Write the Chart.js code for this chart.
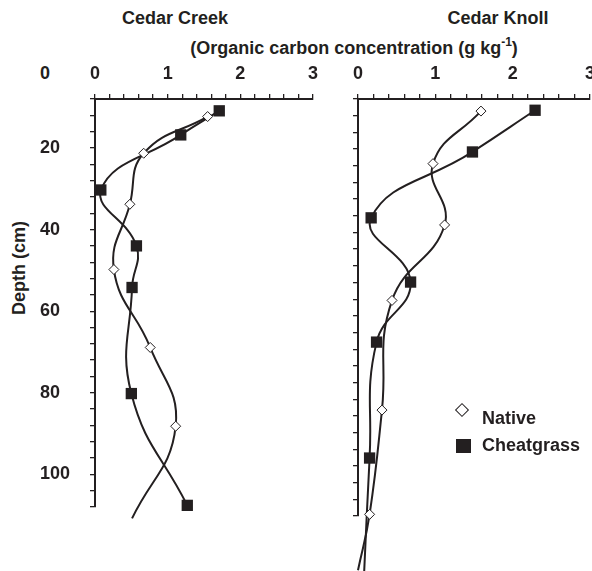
<!DOCTYPE html>
<html>
<head>
<meta charset="utf-8">
<script src="https://cdn.jsdelivr.net/npm/chart.js@4.4.1/dist/chart.umd.min.js"></script>
<style>
  html, body { margin: 0; padding: 0; background: #fff; }
  body {
    width: 592px; height: 571px; position: relative; overflow: hidden;
    font-family: "Liberation Sans", Arial, sans-serif; font-weight: bold; color: #231f20;
  }
  .txt { position: absolute; font-size: 18px; line-height: 18px; white-space: nowrap; transform: translate(-50%, -50%); }
  .txt sup { font-size: 12px; line-height: 0; position: relative; top: -1px; }
  canvas { position: absolute; top: 0; }
  #legend { position: absolute; left: 450px; top: 399px; font-size: 18px; }
  #legend .item { position: relative; height: 36px; }
  #legend .mark { position: absolute; box-sizing: border-box; }
  #legend .label { position: absolute; left: 32px; top: 1px; line-height: 18px; white-space: nowrap; }
</style>
</head>
<body>
<div class="txt" style="left:175px; top:18px;">Cedar Creek</div>
<div class="txt" style="left:498px; top:18px;">Cedar Knoll</div>
<div class="txt" style="left:354px; top:48px;">(Organic carbon concentration (g kg<sup>-1</sup>)</div>
<div class="txt" style="left:19px; top:268px; transform:translate(-50%,-50%) rotate(-90deg);">Depth (cm)</div>
<div class="txt" style="left:45px; top:73px;">0</div>

<canvas id="creek" width="330" height="571" style="left:0;"></canvas>
<canvas id="knoll" width="274" height="571" style="left:330px;"></canvas>
<div id="legend"></div>

<script>
// 유기탄소 농도 (g kg-1) 와 깊이 (cm)
const creekNativeDepth = [12.3, 21.3, 33.8, 49.8, 68.9, 88.2, 110.8];
const creekNativeCarbon = [1.55, 0.67, 0.48, 0.26, 0.76, 1.11, 0.51];
const creekCheatDepth = [10.9, 16.8, 30.3, 44.0, 54.2, 80.2, 107.6];
const creekCheatCarbon = [1.71, 1.18, 0.08, 0.57, 0.51, 0.50, 1.27];

const knollNativeDepth = [10.9, 23.5, 38.2, 56.3, 82.6, 107.6, 121.0];
const knollNativeCarbon = [1.59, 0.97, 1.12, 0.44, 0.31, 0.15, 0.00];
const knollCheatDepth = [10.7, 20.7, 36.5, 51.9, 66.3, 94.1, 121.3];
const knollCheatCarbon = [2.29, 1.48, 0.17, 0.68, 0.24, 0.15, 0.08];

const carbonLabels = [0, 1, 2, 3];
const depthLabels = [20, 40, 60, 80, 100];

const ink = '#231f20';
const depthMax = 108;

function toPoints(depths, carbons) {
  return depths.map((d, i) => ({ x: carbons[i], y: d }));
}

// 축 범위 밖의 점은 마커 없이 선만
function markerSize(size) {
  return ctx => (ctx.raw && ctx.raw.y > depthMax ? 0 : size);
}

function makeChart(id, nativePts, cheatPts, opt) {
  return new Chart(document.getElementById(id), {
    type: 'scatter',
    data: {
      datasets: [
        {
          label: 'Native',
          data: nativePts,
          showLine: true,
          borderColor: ink,
          borderWidth: 2,
          tension: 0.45,
          clip: false,
          pointStyle: 'rectRot',
          pointRadius: markerSize(5),
          pointBackgroundColor: '#fff',
          pointBorderColor: ink,
          pointBorderWidth: 1
        },
        {
          label: 'Cheatgrass',
          data: cheatPts,
          showLine: true,
          borderColor: ink,
          borderWidth: 2,
          tension: 0.45,
          clip: false,
          pointStyle: 'rect',
          pointRadius: markerSize(8),
          pointBackgroundColor: ink,
          pointBorderColor: ink,
          pointBorderWidth: 0
        }
      ]
    },
    options: {
      responsive: false,
      animation: false,
      events: [],
      layout: { padding: opt.padding },
      plugins: { legend: { display: false }, tooltip: { enabled: false } },
      scales: {
        x: {
          type: 'linear',
          position: 'top',
          min: 0,
          max: 3,
          afterFit: s => { s.height = 39; },
          grid: { drawOnChartArea: false, tickLength: 5, color: ink, lineWidth: 1.3 },
          border: { color: ink, width: 2 },
          ticks: {
            stepSize: 0.2,
            autoSkip: false,
            maxRotation: 0,
            padding: 9,
            color: ink,
            font: { family: '"Liberation Sans", Arial, sans-serif', size: 18, weight: 'bold' },
            callback: v => {
              const r = Math.round(v * 1000) / 1000;
              return carbonLabels.includes(r) ? String(r) : '';
            }
          }
        },
        y: {
          type: 'linear',
          reverse: true,
          min: 8,
          max: depthMax,
          afterFit: s => { s.width = opt.yWidth; },
          grid: { drawOnChartArea: false, tickLength: 5, color: ink, lineWidth: 1.3 },
          border: { color: ink, width: 2 },
          ticks: {
            stepSize: 4,
            autoSkip: false,
            crossAlign: 'far',
            color: ink,
            font: { family: '"Liberation Sans", Arial, sans-serif', size: 18, weight: 'bold' },
            callback: v => (opt.depthText && depthLabels.includes(v) ? String(v) : '')
          }
        }
      }
    }
  });
}

const creekChart = makeChart('creek',
  toPoints(creekNativeDepth, creekNativeCarbon),
  toPoints(creekCheatDepth, creekCheatCarbon),
  { padding: { left: 40, top: 60, right: 17, bottom: 64 }, yWidth: 55, depthText: true });

const knollChart = makeChart('knoll',
  toPoints(knollNativeDepth, knollNativeCarbon),
  toPoints(knollCheatDepth, knollCheatCarbon),
  { padding: { left: 0, top: 60, right: 3, bottom: 55 }, yWidth: 28, depthText: false });

// 범례
const legend = document.getElementById('legend');
knollChart.data.datasets.forEach(ds => {
  const item = document.createElement('div');
  item.className = 'item';
  const mark = document.createElement('span');
  mark.className = 'mark';
  if (ds.pointStyle === 'rectRot') {
    mark.style.cssText = 'left:7px; top:6px; width:10px; height:10px; border:1.3px solid ' + ink + '; background:#fff; transform:rotate(45deg);';
  } else {
    mark.style.cssText = 'left:6px; top:4px; width:15px; height:14px; background:' + ink + ';';
  }
  const label = document.createElement('span');
  label.className = 'label';
  label.style.top = ds.pointStyle === 'rectRot' ? '10px' : '1px';
  label.textContent = ds.label;
  item.appendChild(mark);
  item.appendChild(label);
  legend.appendChild(item);
});
</script>
</body>
</html>
